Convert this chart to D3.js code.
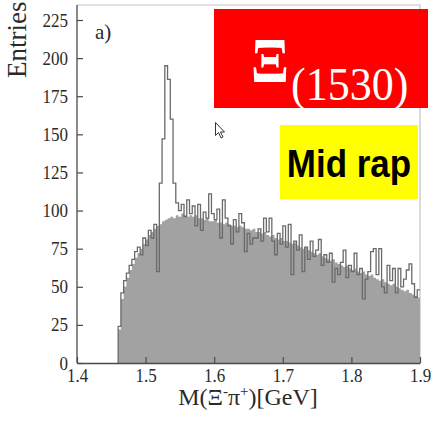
<!DOCTYPE html>
<html>
<head>
<meta charset="utf-8">
<script src="https://cdn.jsdelivr.net/npm/d3@7/dist/d3.min.js"></script>
<style>
  html, body { margin: 0; padding: 0; background: #fff; }
  svg { display: block; }
</style>
</head>
<body>
<svg id="chart" width="434" height="425"></svg>
<script>
// Histogram binning: 4 MeV bins starting at the Xi- pi+ threshold region
const binStart = 1.46;
const binWidth = 0.004;

// Mixed-event background (filled histogram)
const mixedCounts = [
  22, 42, 50, 56, 61, 65, 69, 72, 75, 78, 81, 84, 86, 88, 90, 91, 93,
  94, 95, 96, 95, 97, 96, 98, 97, 96, 97, 96, 97, 95, 95, 94, 95, 93,
  93, 94, 92, 92, 91, 92, 91, 90, 90, 89, 90, 89, 88, 88, 87, 88, 86, 86, 85, 86,
  84, 83, 84, 82, 81, 82, 80, 80, 79, 78, 79, 77, 76, 75, 76, 74, 73, 72, 71, 72,
  70, 69, 68, 67, 68, 66, 65, 64, 63, 64, 62, 61, 62, 60, 59, 60, 58, 57, 58, 56,
  55, 54, 55, 53, 52, 51, 52, 50, 49, 48, 47, 48, 46, 45, 44, 43
];

// Same-event spectrum (step outline)
const sameCounts = [
  24, 46, 54, 59, 64, 68, 73, 76, 71, 82, 77, 87, 82, 91, 60, 118, 147,
  195, 186, 160, 118, 105, 100, 104, 96, 107, 98, 103, 90, 104, 87, 99, 95, 111,
  98, 94, 101, 82, 107, 95, 90, 78, 94, 86, 98, 92, 73, 85, 78, 82,
  82, 88, 80, 95, 86, 95, 80, 71, 85, 78, 90, 76, 91, 58, 80, 74, 84, 60, 76, 68,
  80, 70, 74, 81, 64, 71, 66, 72, 53, 62, 58, 66, 74, 56, 64, 60, 72, 58, 62, 42,
  55, 60, 73, 75, 58, 75, 50, 46, 64, 54, 62, 46, 62, 50, 55, 61, 65, 52, 43, 48
];

const xTicks = [1.4, 1.5, 1.6, 1.7, 1.8, 1.9];
const yTicks = [0, 25, 50, 75, 100, 125, 150, 175, 200, 225];

const svg = d3.select("#chart");
const x = d3.scaleLinear().domain([1.4, 1.9]).range([77, 420]);
const y = d3.scaleLinear().domain([0, 225]).range([363, 20]);
const frameTop = 5;
const serif = "'Liberation Serif', 'Times New Roman', serif";

// Step data: one point per bin low edge, plus the closing edge
function steps(counts) {
  const pts = counts.map((c, i) => ({ m: binStart + i * binWidth, c }));
  pts.push({ m: binStart + counts.length * binWidth, c: counts[counts.length - 1] });
  return pts;
}

// Frame (top and right, light)
svg.append("path")
  .attr("d", `M${x(1.4)},${frameTop}H${x(1.9)}V${y(0)}`)
  .attr("fill", "none").attr("stroke", "#c4c4c4").attr("stroke-width", 1.2);

// Filled mixed-event histogram
const area = d3.area()
  .curve(d3.curveStepAfter)
  .x(d => x(d.m))
  .y0(y(0))
  .y1(d => y(d.c));
svg.append("path")
  .datum(steps(mixedCounts))
  .attr("d", area)
  .attr("fill", "#a2a2a2");

// Same-event outline
const line = d3.line()
  .curve(d3.curveStepAfter)
  .x(d => x(d.m))
  .y(d => y(d.c));
const sameSteps = [{ m: binStart, c: 0 }].concat(steps(sameCounts));
svg.append("path")
  .datum(sameSteps)
  .attr("d", line)
  .attr("fill", "none")
  .attr("stroke", "#6a6a6a")
  .attr("stroke-width", 1.3);

// Axes with inward ticks
const yAxis = svg.append("g")
  .attr("transform", `translate(${x(1.4)},0)`)
  .call(d3.axisLeft(y).tickValues(yTicks).tickSizeInner(-6).tickSizeOuter(0).tickPadding(9));
const xAxis = svg.append("g")
  .attr("transform", `translate(0,${y(0)})`)
  .call(d3.axisBottom(x).tickValues(xTicks).tickSizeInner(-6).tickSizeOuter(0)
    .tickFormat(d3.format(".1f")));

[yAxis, xAxis].forEach(g => {
  g.select(".domain").attr("stroke", "#4a4a4a").attr("stroke-width", 1.3);
  g.selectAll(".tick line").attr("stroke", "#4a4a4a").attr("stroke-width", 1.2);
  g.selectAll(".tick text")
    .attr("font-family", serif).attr("font-size", 17).attr("fill", "#2a2a2a");
});
// extend the left axis line up to the frame top
yAxis.select(".domain").attr("d", `M0,${y(0)}V${frameTop}`);
yAxis.selectAll(".tick text")
  .attr("x", null).attr("dy", null)
  .attr("transform", "translate(-9,6) scale(1,1.1)");
xAxis.selectAll(".tick text")
  .attr("y", null).attr("dy", null)
  .attr("transform", "translate(0,19) scale(1,1.1)");

// Axis titles
svg.append("text")
  .attr("transform", `translate(26,78) rotate(-90)`)
  .attr("font-family", serif).attr("font-size", 27).attr("fill", "#2a2a2a")
  .text("Entries");

const xt = svg.append("text")
  .attr("transform", `translate(248,405) scale(1,0.95)`)
  .attr("text-anchor", "middle")
  .attr("font-family", serif).attr("font-size", 24).attr("fill", "#2a2a2a");
xt.append("tspan").text("M(Ξ");
xt.append("tspan").attr("dy", -9).attr("font-size", 15).text("-");
xt.append("tspan").attr("dy", 9).text("π");
xt.append("tspan").attr("dy", -9).attr("font-size", 15).text("+");
xt.append("tspan").attr("dy", 9).text(")[GeV]");

// Panel tag
svg.append("text")
  .attr("transform", "translate(95,39)")
  .attr("font-family", serif).attr("font-size", 21).attr("fill", "#2a2a2a")
  .text("a)");

// Particle label box
svg.append("rect")
  .attr("x", 214).attr("y", 9).attr("width", 214).attr("height", 99)
  .attr("fill", "#ff0000");
svg.append("text")
  .attr("transform", "translate(251,82) scale(1,1.12)")
  .attr("font-family", serif).attr("font-size", 56).attr("font-weight", "bold")
  .attr("fill", "#fff").text("Ξ");
svg.append("text")
  .attr("transform", "translate(291,100) scale(1,1.05)")
  .attr("font-family", serif).attr("font-size", 44)
  .attr("fill", "#fff").text("(1530)");

// Rapidity label box
svg.append("rect")
  .attr("x", 280).attr("y", 125).attr("width", 138).attr("height", 74)
  .attr("fill", "#ffff00");
svg.append("text")
  .attr("transform", "translate(349,177) scale(1,1.12)")
  .attr("text-anchor", "middle")
  .attr("font-family", "'Liberation Sans', Arial, sans-serif")
  .attr("font-size", 35).attr("font-weight", "bold")
  .attr("fill", "#000").text("Mid rap");

// Pointer arrow
svg.append("path")
  .attr("transform", "translate(215.5,122.5)")
  .attr("d", "M0,0L0,13L3,10L5.5,15.5L7.5,14.5L5,9.5L9,9.5Z")
  .attr("fill", "#fff").attr("stroke", "#333").attr("stroke-width", 1);
</script>
</body>
</html>
